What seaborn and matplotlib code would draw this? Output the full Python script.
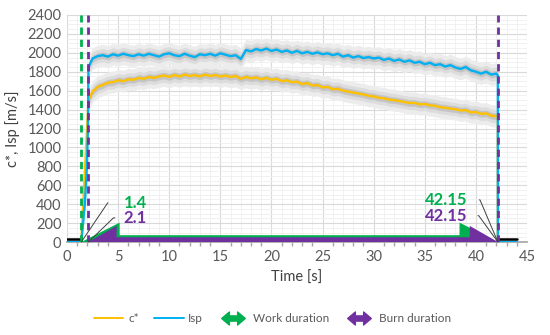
import numpy as np
import pandas as pd
import seaborn as sns
import matplotlib.pyplot as plt
from matplotlib.path import Path
from matplotlib.lines import Line2D
from matplotlib.ticker import MultipleLocator

sns.set_theme(style="white")
plt.rcParams['font.family'] = ['Lato', 'DejaVu Sans']

# measured time base [s] during the burn (0.5 s readings)
time = [2.1, 2.5, 3.0, 3.5, 4.0, 4.5, 5.0, 5.5, 6.0, 6.5, 7.0, 7.5, 8.0, 8.5, 9.0, 9.5,
        10.0, 10.5, 11.0, 11.5, 12.0, 12.5, 13.0, 13.5, 14.0, 14.5, 15.0, 15.5, 16.0, 16.5,
        17.0, 17.5, 18.0, 18.5, 19.0, 19.5, 20.0, 20.5, 21.0, 21.5, 22.0, 22.5, 23.0, 23.5,
        24.0, 24.5, 25.0, 25.5, 26.0, 26.5, 27.0, 27.5, 28.0, 28.5, 29.0, 29.5, 30.0, 30.5,
        31.0, 31.5, 32.0, 32.5, 33.0, 33.5, 34.0, 34.5, 35.0, 35.5, 36.0, 36.5, 37.0, 37.5,
        38.0, 38.5, 39.0, 39.5, 40.0, 40.5, 41.0, 41.5, 42.0, 42.15]

isp = [1850, 1940, 1965, 1975, 1960, 1985, 1970, 1990, 1975, 1965, 1985, 1970, 1990, 1975, 1960, 1985,
       1995, 1975, 1965, 1990, 1970, 1955, 1985, 1975, 1990, 1970, 1995, 1980, 1965, 1975,
       1935, 2030, 2015, 2040, 2025, 2045, 2020, 2035, 2010, 2025, 2000, 2020, 1995, 2010,
       1990, 2005, 1985, 1995, 1975, 1990, 1960, 1975, 1950, 1965, 1945, 1955, 1940, 1950,
       1925, 1940, 1915, 1930, 1905, 1920, 1895, 1905, 1880, 1895, 1870, 1880, 1855, 1870,
       1845, 1830, 1850, 1815, 1800, 1780, 1800, 1770, 1780, 1760]

cstar = [1500, 1590, 1640, 1660, 1685, 1690, 1710, 1700, 1720, 1715, 1735, 1725, 1745, 1735, 1750, 1760,
         1745, 1765, 1750, 1770, 1755, 1765, 1750, 1770, 1755, 1765, 1750, 1760, 1745, 1755,
         1725, 1745, 1730, 1740, 1720, 1735, 1715, 1725, 1700, 1710, 1690, 1695, 1670, 1680,
         1655, 1660, 1635, 1640, 1615, 1620, 1600, 1590, 1580, 1570, 1560, 1545, 1540, 1525,
         1520, 1505, 1500, 1490, 1480, 1470, 1470, 1455, 1460, 1445, 1440, 1425, 1420, 1410,
         1405, 1390, 1395, 1370, 1375, 1355, 1360, 1335, 1330, 1320]

# start-up and shut-down parts of the traces
isp_rise_t = [0.0, 1.4, 1.75, 1.95, 2.05]
isp_rise_v = [0, 0, 400, 800, 1200]
cstar_rise_t = [0.0, 1.4]
cstar_rise_v = [0, 0]
tail_t = [42.15, 44.0]
tail_v = [0, 0]

# black reference level before/after the test
ref_t_before = [0.0, 1.4]
ref_t_after = [42.15, 44.0]
ref_level = [35, 35]

work_start, work_end = 1.4, 42.15
burn_start, burn_end = 2.1, 42.15

c_yellow = "#ffc000"
c_blue = "#00b0f0"
c_green = "#00b050"
c_purple = "#7030a0"

fig = plt.figure(figsize=(5.5, 3.35), dpi=100)
ax = fig.add_axes([67 / 550, 93 / 335, 460 / 550, 227 / 335])

# scatter band around the mean traces
t_arr = np.array(time)
for vals in (isp, cstar):
    v = np.array(vals)
    ax.fill_between(t_arr, v - 115, v + 115, color="#ececec", lw=0, zorder=2)
    ax.fill_between(t_arr, v - 70, v + 70, color="#dcdcdc", lw=0, zorder=2)
    ax.fill_between(t_arr, v - 35, v + 35, color="#c4c4c4", lw=0, zorder=2)

df_c = pd.DataFrame({"t": cstar_rise_t + time + tail_t, "v": cstar_rise_v + cstar + tail_v})
df_i = pd.DataFrame({"t": isp_rise_t + time + tail_t, "v": isp_rise_v + isp + tail_v})
sns.lineplot(data=df_c, x="t", y="v", ax=ax, color=c_yellow, lw=1.7,
             estimator=None, sort=False, zorder=3)
sns.lineplot(data=df_i, x="t", y="v", ax=ax, color=c_blue, lw=1.7,
             estimator=None, sort=False, zorder=4)

ax.plot(ref_t_before, ref_level, color="black", lw=1.8, zorder=5)
ax.plot(ref_t_after, ref_level, color="black", lw=1.8, zorder=5)


def double_arrow(a, b, head_w, head_l, shaft_w):
    xs = [a, a + head_l, a + head_l, b - head_l, b - head_l, b,
          b - head_l, b - head_l, a + head_l, a + head_l]
    ys = [0, head_w, shaft_w, shaft_w, head_w, 0,
          -head_w, -shaft_w, -shaft_w, -head_w]
    return xs, ys


xs, ys = double_arrow(work_start, work_end, 205, 3.75, 72)
ax.fill(xs, ys, color=c_green, lw=0, zorder=6)
xs, ys = double_arrow(burn_start, burn_end, 170, 2.75, 50)
ax.fill(xs, ys, color=c_purple, lw=0, zorder=7)

dash = dict(lw=2, dashes=(2.6, 1.8), zorder=8)
ax.axvline(work_start, color=c_green, **dash)
ax.axvline(burn_start, color=c_purple, **dash)
ax.axvline(burn_end, color=c_purple, **dash)

lead = dict(arrowstyle="-", color="#404040", lw=0.7, shrinkB=0)
ax.annotate(f"{work_start:g}", xy=(work_start, 0), xytext=(5.55, 415),
            color=c_green, fontsize=12, fontweight="bold", va="center", ha="left",
            arrowprops=dict(**lead, shrinkA=9, relpos=(0, 0.5),
                            connectionstyle="angle,angleA=180,angleB=56,rad=0"), zorder=9)
ax.annotate(f"{burn_start:g}", xy=(burn_start, 0), xytext=(5.55, 255),
            color=c_purple, fontsize=12, fontweight="bold", va="center", ha="left",
            arrowprops=dict(**lead, shrinkA=4, relpos=(0, 0.5),
                            connectionstyle="angle,angleA=180,angleB=44,rad=0"), zorder=9)
ax.annotate(f"{work_end:g}", xy=(work_end, 0), xytext=(39.2, 445),
            color=c_green, fontsize=12, fontweight="bold", va="center", ha="right",
            arrowprops=dict(**lead, shrinkA=6, relpos=(1, 0.5),
                            connectionstyle="angle,angleA=0,angleB=113,rad=0"), zorder=9)
ax.annotate(f"{burn_end:g}", xy=(burn_end, 0), xytext=(39.2, 278),
            color=c_purple, fontsize=12, fontweight="bold", va="center", ha="right",
            arrowprops=dict(**lead, shrinkA=5, relpos=(1, 0.5),
                            connectionstyle="angle,angleA=0,angleB=126,rad=0"), zorder=9)

ax.set_xlim(0, 45)
ax.set_ylim(0, 2400)
ax.xaxis.set_major_locator(MultipleLocator(5))
ax.xaxis.set_minor_locator(MultipleLocator(1))
ax.yaxis.set_major_locator(MultipleLocator(200))
ax.yaxis.set_minor_locator(MultipleLocator(50))
ax.grid(which="major", color="#d9d9d9", lw=0.8, zorder=0)
ax.grid(which="minor", color="#efefef", lw=0.6, zorder=0)
ax.set_axisbelow(True)
for s in ("top", "right", "left"):
    ax.spines[s].set_visible(False)
ax.spines["bottom"].set_color("#a6a6a6")
ax.spines["bottom"].set_zorder(1)
ax.tick_params(axis="x", which="both", direction="out", colors="#a6a6a6",
               labelcolor="#595959", labelsize=10.5, bottom=True, length=3)
ax.tick_params(axis="x", which="major", length=0, pad=6)
ax.tick_params(axis="y", labelcolor="#595959", labelsize=10.5, length=0, pad=4)

ax.set_xlabel("Time [s]", fontsize=10.5, color="#404040", labelpad=5)
ax.set_ylabel("c*, Isp [m/s]", fontsize=10.5, color="#404040", labelpad=5)

arrow_path = Path([(-1, 0), (-0.35, 0.55), (-0.35, 0.22), (0.35, 0.22), (0.35, 0.55), (1, 0),
                   (0.35, -0.55), (0.35, -0.22), (-0.35, -0.22), (-0.35, -0.55), (-1, 0)],
                  closed=True)
handles = [Line2D([], [], color=c_yellow, lw=1.4),
           Line2D([], [], color=c_blue, lw=1.4),
           Line2D([], [], color=c_green, marker=arrow_path, markersize=17, ls="none"),
           Line2D([], [], color=c_purple, marker=arrow_path, markersize=17, ls="none")]
fig.legend(handles, ["c*", "Isp", "Work duration", "Burn duration"], loc="center",
           bbox_to_anchor=(0.495, 0.05), ncol=4, frameon=False, fontsize=8.5,
           labelcolor="#595959", handlelength=2.5, columnspacing=1.3, handletextpad=0.4)

fig.savefig("out.png", dpi=100)
